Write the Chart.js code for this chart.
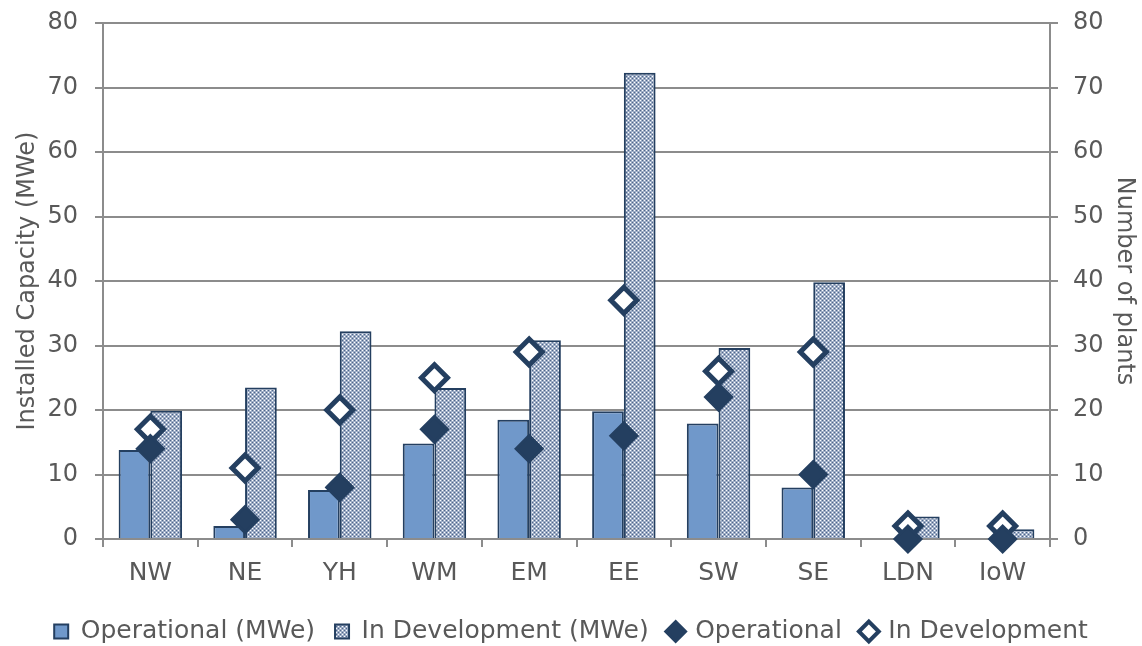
<!DOCTYPE html>
<html>
<head>
<meta charset="utf-8">
<script src="https://cdn.jsdelivr.net/npm/chart.js@4.4.1/dist/chart.umd.min.js"></script>
<style>
  html, body { margin: 0; padding: 0; background: #ffffff; }
  #wrap { width: 1142px; height: 646px; }
</style>
</head>
<body>
<div id="wrap"><canvas id="c" width="1142" height="646"></canvas></div>
<script>
// Regions and their biogas plant figures
const regions = ['NW', 'NE', 'YH', 'WM', 'EM', 'EE', 'SW', 'SE', 'LDN', 'IoW'];
const operationalMWe = [13.8, 2.0, 7.6, 14.8, 18.5, 19.8, 17.9, 8.0, 0, 0];
const developmentMWe = [19.9, 23.5, 32.2, 23.4, 30.8, 72.3, 29.6, 39.8, 3.5, 1.5];
const operationalPlants = [14, 3, 8, 17, 14, 16, 22, 10, 0, 0];
const developmentPlants = [17, 11, 20, 25, 29, 37, 26, 29, 2, 2];
const axisTicks = [0, 10, 20, 30, 40, 50, 60, 70, 80];

const textColor = '#595959';
const gridColor = '#8c8c8c';
const navy = '#243f60';
const baseFont = { family: 'DejaVu Sans', size: 24 };
const labelFont = { family: 'DejaVu Sans', size: 25 };

// Small checker pattern used for the "in development" bars
function makeChecker() {
  const p = document.createElement('canvas');
  p.width = 4; p.height = 4;
  const g = p.getContext('2d');
  g.fillStyle = '#9eadc6';
  g.fillRect(0, 0, 4, 4);
  g.fillStyle = '#ffffff';
  g.fillRect(0, 0, 1, 1);
  g.fillRect(2, 2, 1, 1);
  g.fillStyle = '#4f6689';
  g.fillRect(2, 0, 1, 1);
  g.fillRect(0, 2, 1, 1);
  return g.createPattern(p, 'repeat');
}

const ctx = document.getElementById('c').getContext('2d');
const checker = makeChecker();

// Bars get square legend markers, the plant counts get diamonds
const legendStyles = ['rect', 'rect', 'rectRot', 'rectRot'];

// Vertical axes: fixed widths and a fixed top gap above the 80 line
const fitVertical = width => s => { s.width = width; s.paddingTop = 23; };

new Chart(ctx, {
  data: {
    labels: regions,
    datasets: [
      {
        type: 'bar', label: 'Operational (MWe)', data: operationalMWe, yAxisID: 'y',
        backgroundColor: '#7098ca', borderColor: navy, borderWidth: 2,
        categoryPercentage: 0.67, barPercentage: 1.0, order: 3
      },
      {
        type: 'bar', label: 'In Development (MWe)', data: developmentMWe, yAxisID: 'y',
        backgroundColor: checker, borderColor: navy, borderWidth: 2,
        categoryPercentage: 0.67, barPercentage: 1.0, order: 4
      },
      {
        type: 'line', label: 'Operational', data: operationalPlants, yAxisID: 'y2',
        showLine: false, pointStyle: 'rectRot', pointRadius: 13, pointHoverRadius: 13,
        pointBackgroundColor: navy, pointBorderColor: navy, pointBorderWidth: 3,
        backgroundColor: navy, borderColor: navy, clip: false, order: 1
      },
      {
        type: 'line', label: 'In Development', data: developmentPlants, yAxisID: 'y2',
        showLine: false, pointStyle: 'rectRot', pointRadius: 13, pointHoverRadius: 13,
        pointBackgroundColor: '#ffffff', pointBorderColor: navy, pointBorderWidth: 5,
        backgroundColor: '#ffffff', borderColor: navy, clip: false, order: 2
      }
    ]
  },
  options: {
    responsive: false,
    animation: false,
    devicePixelRatio: 1,
    layout: { padding: { top: 0, left: 0, right: 0, bottom: -8 } },
    plugins: {
      tooltip: { enabled: false },
      legend: {
        position: 'bottom',
        labels: {
          usePointStyle: true, boxWidth: 14, boxHeight: 14, padding: 20,
          font: labelFont, color: textColor,
          sort: (a, b) => a.datasetIndex - b.datasetIndex,
          generateLabels: chart => {
            const items = Chart.defaults.plugins.legend.labels.generateLabels(chart);
            items.forEach(it => {
              it.pointStyle = legendStyles[it.datasetIndex];
              if (it.datasetIndex === 3) it.lineWidth = 4;
            });
            return items;
          }
        }
      }
    },
    scales: {
      x: {
        grid: { display: true, drawOnChartArea: false, offset: true, tickLength: 8, color: gridColor, lineWidth: 2 },
        border: { display: true, color: gridColor, width: 2 },
        ticks: { font: labelFont, color: textColor, padding: 11 },
        afterFit: s => { s.height = 60; }
      },
      y: {
        position: 'left', min: 0, max: 80,
        afterBuildTicks: s => { s.ticks = axisTicks.map(v => ({ value: v })); },
        ticks: { font: baseFont, color: textColor, padding: 17 },
        grid: { color: gridColor, lineWidth: 2, tickLength: 8 },
        border: { color: gridColor, width: 2 },
        title: { display: true, text: 'Installed Capacity (MWe)', font: baseFont, color: textColor, padding: { top: 13, bottom: 0 } },
        afterFit: fitVertical(103)
      },
      y2: {
        position: 'right', min: 0, max: 80,
        afterBuildTicks: s => { s.ticks = axisTicks.map(v => ({ value: v })); },
        ticks: { font: baseFont, color: textColor, padding: 15 },
        grid: { drawOnChartArea: false, color: gridColor, lineWidth: 2, tickLength: 8 },
        border: { color: gridColor, width: 2 },
        title: { display: true, text: 'Number of plants', font: baseFont, color: textColor, padding: { top: 3, bottom: 0 } },
        afterFit: fitVertical(92)
      }
    }
  }
});
</script>
</body>
</html>
